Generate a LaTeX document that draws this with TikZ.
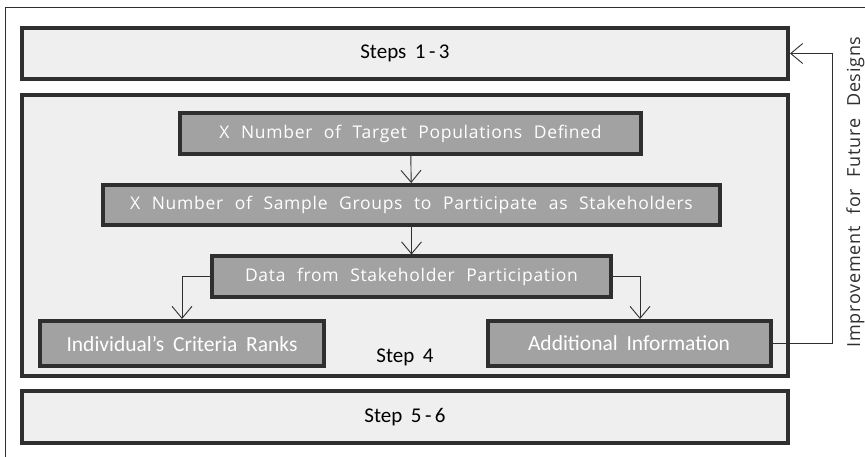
\documentclass[tikz,border=0pt]{standalone}
\usepackage{fontspec}
\setmainfont[WordSpace=1.8]{Carlito}
\newfontfamily\boxfont[WordSpace=2.2,LetterSpace=4]{Open Sans}
\usetikzlibrary{positioning,arrows.meta}
\definecolor{FLOWdark}{HTML}{2F2F2F}
\definecolor{FLOWlight}{HTML}{EFEFEF}
\definecolor{FLOWgray}{HTML}{A2A2A2}

\begin{document}
\begin{tikzpicture}[x=1pt,y=-1pt,
  stepbox/.style={draw=FLOWdark, line width=4pt, fill=FLOWlight, minimum width=766pt, inner sep=0pt, font=\fontsize{21}{25}\selectfont},
  taskbox/.style={draw=FLOWdark, line width=4pt, fill=FLOWgray, text=white, inner sep=0pt, font=\boxfont\fontsize{17.5}{21}\selectfont},
  sidebox/.style={taskbox, font=\fontsize{21.5}{25}\selectfont},
  flow/.style={FLOWdark, line width=0.9pt, -{Straight Barb[length=12pt,width=20pt,line width=0.9pt]}}]
\useasboundingbox (0,0) rectangle (865,457);
% frame
\draw[FLOWdark, line width=1.2pt] (5.5,460) -- (5.5,7.5) -- (870,7.5);
% step boxes
\node[stepbox, minimum height=51pt] (steps13) at (405,53.5) {Steps 1\,-\,3};
\node[stepbox, minimum height=281pt] (step4) at (405,235.5) {};
\node[stepbox, minimum height=52pt] (steps56) at (405,417) {Step 5\,-\,6};
\node[font=\fontsize{21}{25}\selectfont, anchor=base] (step4lab) at (405,362) {Step 4};
% inner boxes
\node[taskbox, minimum width=461pt, minimum height=41pt] (targets) at (410.5,133.5) {X Number of Target Populations Defined};
\node[taskbox, minimum width=617pt, minimum height=40pt] (samples) at (411.5,205) {X Number of Sample Groups to Participate as Stakeholders};
\node[taskbox, minimum width=399pt, minimum height=40pt] (data) at (411.5,276.5) {Data from Stakeholder Participation};
\node[sidebox, minimum width=284pt, minimum height=45pt] (ranks) at (182,343.5) {Individual’s Criteria Ranks};
\node[sidebox, minimum width=283pt, minimum height=45pt] (additional) at (629,343.5) {Additional Information};
% connectors
\draw[flow] (targets) -- (samples);
\draw[flow] (samples) -- (data);
\draw[flow] (data.west) -| (ranks.north);
\draw[flow] (data.east) -| ([xshift=11pt]additional.north);
\coordinate (loop) at (832,343.5);
\draw[flow] (additional.east) -- (loop) |- (steps13.east);
\node[rotate=90, anchor=base, font=\boxfont\fontsize{18}{22}\selectfont, text=FLOWdark] (improve) at (860,192) {Improvement for Future Designs};
\end{tikzpicture}
\end{document}
